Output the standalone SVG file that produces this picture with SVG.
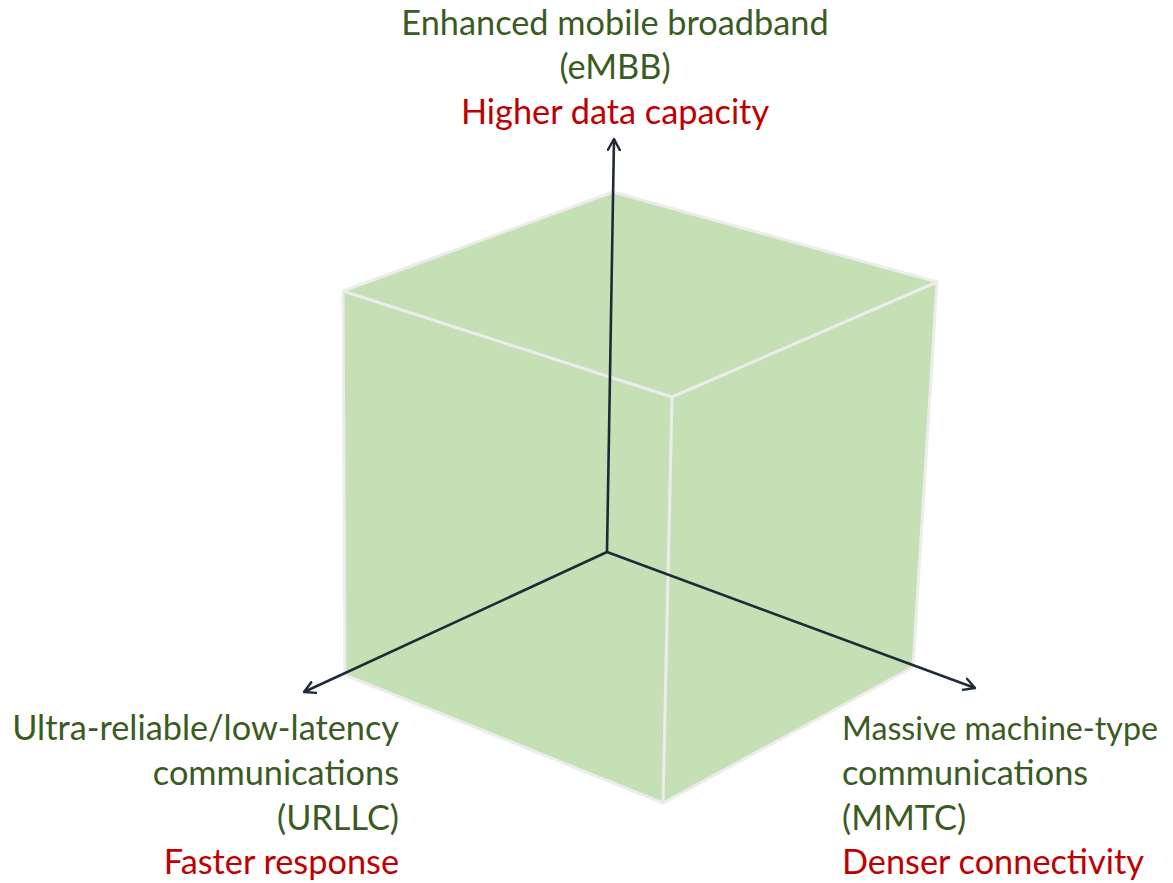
<svg xmlns="http://www.w3.org/2000/svg" width="1173" height="883" viewBox="0 0 1173 883">
  <style>
    .face { fill: #c5e0b4; stroke: none; }
    .edge { fill: none; stroke: #ececec; stroke-width: 3; stroke-linejoin: round; }
    .axis { fill: none; stroke: #1f2a38; stroke-width: 2.6; }
    .lbl { font-family: Lato, "Open Sans", sans-serif; font-size: 34.3px; }
    .g { fill: #3a5b22; }
    .r { fill: #c00000; }
  </style>
  <defs>
    <marker id="arrow" viewBox="0 0 14 14" refX="12" refY="7" markerWidth="14" markerHeight="14" markerUnits="userSpaceOnUse" orient="auto">
      <path d="M1,1 L12,7 L1,13" fill="none" stroke="#1f2a38" stroke-width="2.4" stroke-linecap="round" stroke-linejoin="round"/>
    </marker>
  </defs>

  <!-- cube body -->
  <g id="cube">
    <polygon class="face" points="343,291 613,192 937,282 913,667 663,803 345,675"/>
    <polyline class="edge" points="343,291 613,192 937,282 913,667 663,803 345,675 343,291"/>
    <polyline class="edge" points="343,291 672,397 937,282"/>
    <line class="edge" x1="672" y1="397" x2="663" y2="803"/>
  </g>

  <!-- axes -->
  <g id="connectors">
    <line class="axis" x1="607" y1="552" x2="614" y2="139" marker-end="url(#arrow)"/>
    <line class="axis" x1="607" y1="552" x2="304" y2="692" marker-end="url(#arrow)"/>
    <line class="axis" x1="607" y1="552" x2="975" y2="688" marker-end="url(#arrow)"/>
  </g>

  <!-- labels -->
  <g id="embb" class="lbl" text-anchor="middle">
    <text class="g" x="615" y="35">Enhanced mobile broadband</text>
    <text class="g" x="615" y="79">(eMBB)</text>
    <text class="r" x="615" y="124">Higher data capacity</text>
  </g>
  <g id="urllc" class="lbl" text-anchor="end">
    <text class="g" x="399" y="740">Ultra-reliable/low-latency</text>
    <text class="g" x="399" y="785">communications</text>
    <text class="g" x="399" y="830">(URLLC)</text>
    <text class="r" x="399" y="874">Faster response</text>
  </g>
  <g id="mmtc" class="lbl" text-anchor="start">
    <text class="g" x="842" y="740" style="font-size:33px" textLength="316" lengthAdjust="spacingAndGlyphs">Massive machine-type</text>
    <text class="g" x="842" y="785">communications</text>
    <text class="g" x="842" y="830">(MMTC)</text>
    <text class="r" x="842" y="874">Denser connectivity</text>
  </g>
</svg>
